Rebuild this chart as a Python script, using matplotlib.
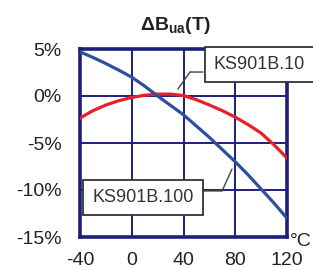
import matplotlib
matplotlib.use("Agg")
import matplotlib.pyplot as plt

plt.rcParams['font.family'] = ['Liberation Sans', 'DejaVu Sans']
plt.rcParams['mathtext.fontset'] = 'custom'
plt.rcParams['mathtext.rm'] = 'Liberation Sans'
plt.rcParams['mathtext.bf'] = 'Liberation Sans:bold'

temps = [-40, -30, -20, -10, 0, 10, 20, 30, 40, 50, 60, 70, 80, 90, 100, 110, 120]
ks901b_100 = [4.7, 4.1, 3.45, 2.75, 2.0, 1.05, 0.0, -1.0, -2.0, -3.2, -4.4,
              -5.7, -7.0, -8.4, -9.9, -11.4, -13.0]
ks901b_10 = [-2.35, -1.56, -0.96, -0.5, -0.16, 0.08, 0.2, 0.2, 0.05, -0.4, -0.96,
             -1.56, -2.25, -3.05, -3.95, -5.2, -6.6]
x_ticks = [-40, 0, 40, 80, 120]
y_ticks = [5, 0, -5, -10, -15]
y_labels = ["5%", "0%", "-5%", "-10%", "-15%"]
x_labels = ["-40", "0", "40", "80", "120"]

navy = '#1c1f78'
fig = plt.figure(figsize=(3.13, 2.68), dpi=100)
ax = fig.add_axes([80/313, 1-237/268, 207/313, 188/268])
ax.set_xlim(-40, 120)
ax.set_ylim(-15, 5)
ax.set_xticks(x_ticks)
ax.set_xticklabels(x_labels)
ax.set_yticks(y_ticks)
ax.set_yticklabels(y_labels)
ax.tick_params(length=0, labelsize=14, colors='#222222')
ax.tick_params(axis='x', pad=10.5)
ax.tick_params(axis='y', pad=13)
ax.grid(True, color=navy, linewidth=1.4)
for s in ax.spines.values():
    s.set_color(navy)
    s.set_linewidth(2.6)
ax.set_axisbelow(True)

ax.plot(temps, ks901b_10, color='#e8202a', linewidth=2.3, zorder=3)
ax.plot(temps, ks901b_100, color='#2f4ea0', linewidth=2.3, zorder=4)

bbox = dict(boxstyle='square,pad=0.5', facecolor='white', edgecolor='#333333', linewidth=1.3)
lp = dict(arrowstyle='-', color='#444444', linewidth=1.0, shrinkA=0, shrinkB=0)
ax.text(98.8, 3.35, "KS901B.10", fontsize=13, ha='center', va='center', bbox=bbox,
        color='#333333', zorder=6, clip_on=False)
ax.annotate("", xy=(35.7, 0.74), xytext=(45, 2.55), arrowprops=lp, zorder=5)
ax.annotate("", xy=(45, 2.55), xytext=(55, 2.55), arrowprops=lp, zorder=5)

ax.text(8.7, -10.8, "KS901B.100", fontsize=13, ha='center', va='center', bbox=bbox,
        color='#333333', zorder=6)
ax.annotate("", xy=(77.5, -7.77), xytext=(69.8, -10.1), arrowprops=lp, zorder=5)
ax.annotate("", xy=(69.8, -10.1), xytext=(52.8, -10.1), arrowprops=lp, zorder=5)

fig.text(175/313, 1-25/268, r'$\mathbf{\Delta B_{ua}(T)}$', fontsize=14, ha='center',
         va='center', color='#222222')
fig.text(312/313, 1-242/268, "°C", fontsize=14, ha='right', va='center', color='#222222')

fig.savefig("out.png", dpi=100)
